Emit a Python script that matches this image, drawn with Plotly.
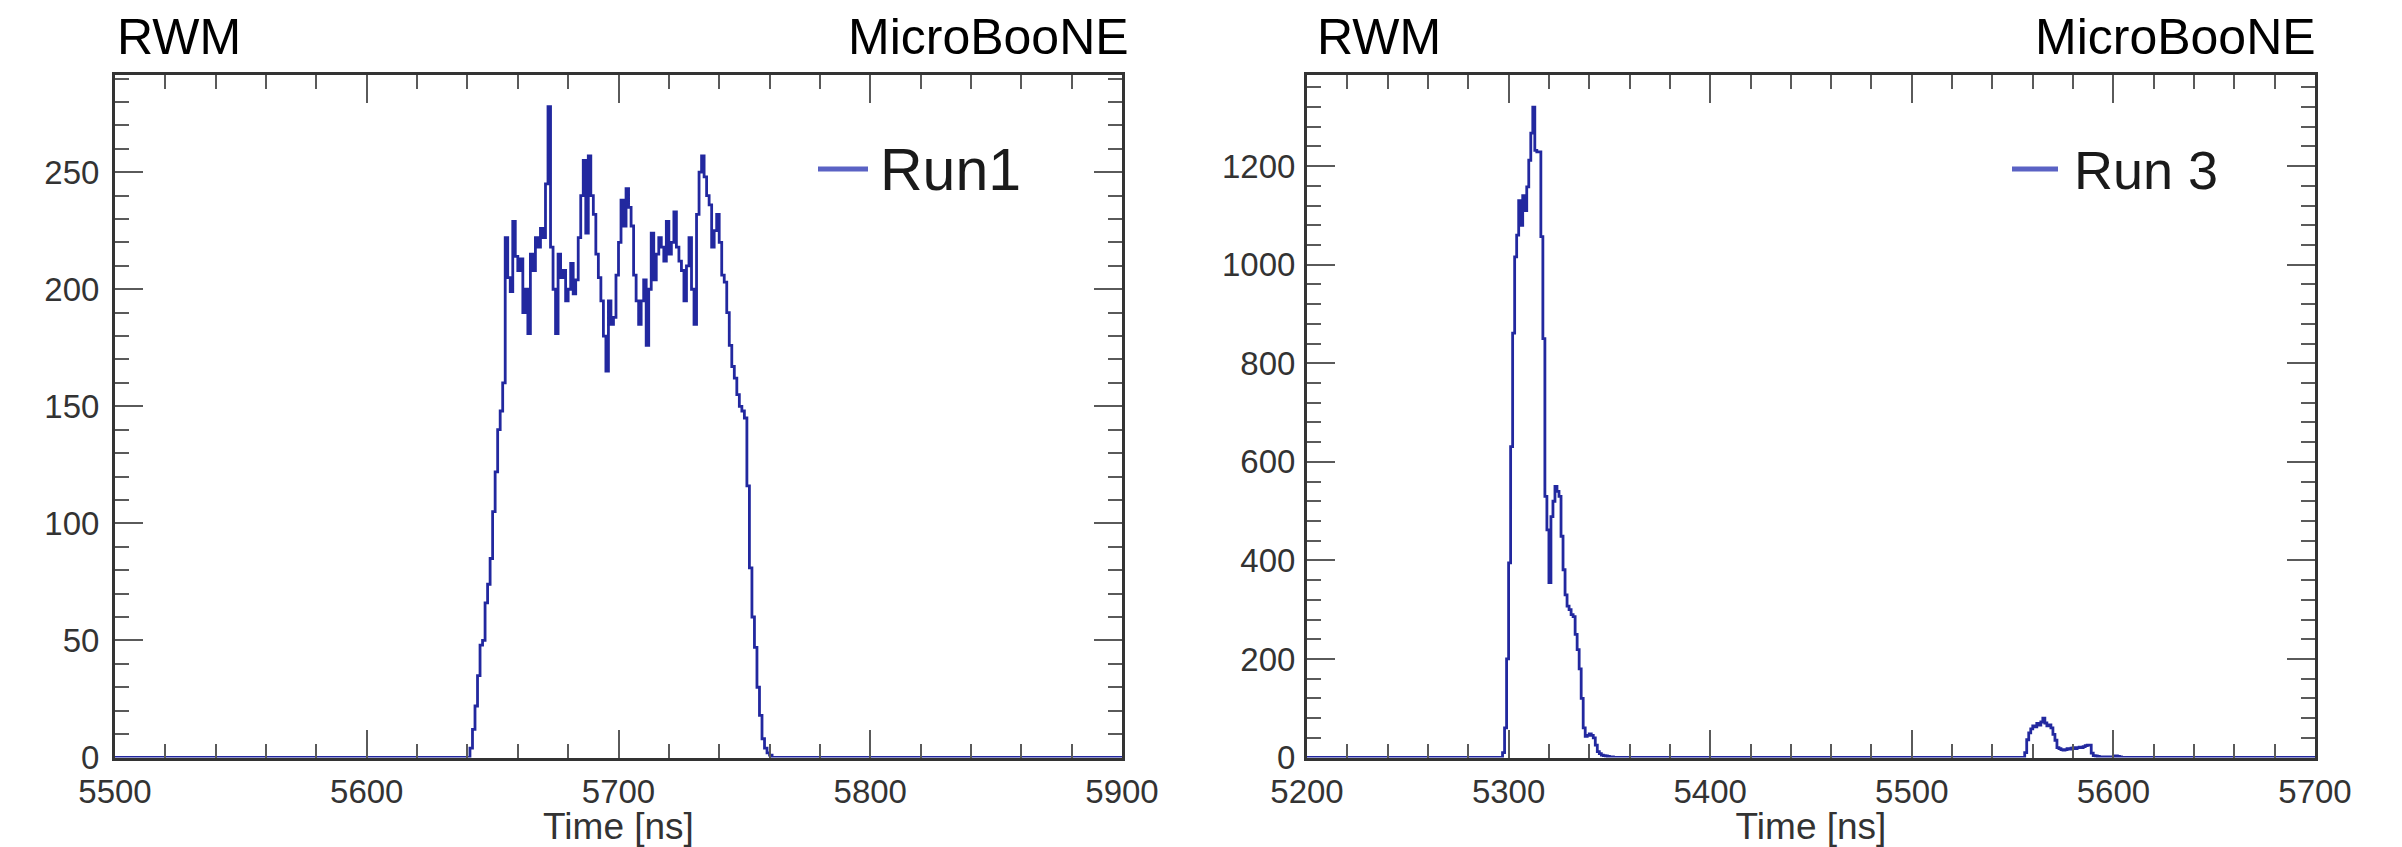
import numpy as np
import plotly.graph_objects as go

# ---------------- data ----------------
# Run 1: RWM waveform, 1-ns bins
RUN1_RANGE = [5500, 5900]
RUN1_T0 = 5640
RUN1_COUNTS = [0, 4, 12, 22, 35, 48, 50, 66, 74, 85, 105, 122, 140, 148, 160,
               222, 205, 199, 229, 214, 208, 213, 190, 200, 181, 215, 208, 222, 218, 226,
               222, 245, 278, 218, 200, 181, 215, 205, 208, 195, 200, 211, 198, 204, 222,
               240, 255, 224, 257, 240, 232, 215, 205, 195, 180, 165, 195, 185, 188, 206,
               220, 238, 227, 243, 235, 227, 206, 195, 185, 195, 204, 176, 200, 224, 204,
               215, 222, 218, 212, 229, 215, 220, 233, 218, 212, 208, 195, 210, 222, 200,
               185, 232, 250, 257, 248, 240, 236, 218, 225, 232, 220, 206, 203, 190, 176,
               167, 162, 155, 150, 148, 145, 116, 81, 60, 47, 30, 18, 8, 4, 2, 1, 0]

# Run 3: RWM waveform, 1-ns bins, two bursts
RUN3_RANGE = [5200, 5700]
RUN3_T0_A = 5296
RUN3_COUNTS_A = [0, 10, 60, 200, 395, 631, 861, 1016, 1060, 1130, 1080, 1140, 1110, 1158,
                 1212, 1267, 1320, 1232, 1229, 1229, 1057, 850, 530, 462, 355, 489, 520,
                 550, 540, 530, 449, 381, 330, 307, 300, 290, 286, 250, 219, 180, 120, 60,
                 43, 45, 48, 45, 40, 25, 12, 8, 5, 4, 3, 2, 1, 1, 0]
RUN3_T0_B = 5555
RUN3_COUNTS_B = [0, 10, 36, 50, 58, 64, 62, 69, 66, 72, 80, 70, 64, 66, 60, 47, 35, 20,
                 18, 16, 15, 16, 18, 17, 19, 20, 18, 20, 21, 20, 22, 24, 25, 25, 9, 4, 3,
                 2, 1, 1, 1, 1, 1, 1, 1, 2, 3, 2, 1, 0]

Y1_MAX = 291.5
Y3_MAX = 1385

PANEL_TITLE_L = "RWM"
PANEL_TITLE_R = "MicroBooNE"
LEGEND1 = "Run1"
LEGEND3 = "Run 3"
XTITLE = "Time [ns]"


def histogram(rng, segments):
    t = np.arange(rng[0], rng[1] + 1)
    c = np.zeros(len(t))
    for t0, vals in segments:
        i0 = t0 - rng[0]
        c[i0:i0 + len(vals)] = vals
    return t, c


t1, c1 = histogram(RUN1_RANGE, [(RUN1_T0, RUN1_COUNTS)])
t3, c3 = histogram(RUN3_RANGE, [(RUN3_T0_A, RUN3_COUNTS_A), (RUN3_T0_B, RUN3_COUNTS_B)])

W, H = 2402, 847
LINE_COLOR = "#22289f"
FONT = "Liberation Sans, Arial, Helvetica, sans-serif"


def px(x):
    return x / W


def py(y):
    return 1 - y / H


fig = go.Figure()
fig.add_trace(go.Scatter(x=t1, y=c1, mode="lines", line=dict(color=LINE_COLOR, width=2.8, shape="hv"),
                         xaxis="x", yaxis="y", showlegend=False, name=LEGEND1))
fig.add_trace(go.Scatter(x=t3, y=c3, mode="lines", line=dict(color=LINE_COLOR, width=2.8, shape="hv"),
                         xaxis="x2", yaxis="y2", showlegend=False, name=LEGEND3))

axis_common = dict(showline=True, linecolor="#333333", linewidth=3, mirror="allticks",
                   ticks="inside", tickcolor="#5a5a5a", tickwidth=2, showgrid=False,
                   zeroline=False, automargin=False,
                   tickfont=dict(family=FONT, size=33, color="#333333"))

XT = dict(text=XTITLE, font=dict(family=FONT, size=37, color="#333333"), standoff=31)
MINOR = dict(ticks="inside", tickcolor="#5a5a5a", tickwidth=2, ticklen=14)
YDOM = [py(757.5), py(75)]
fig.update_layout(
    width=W, height=H, margin=dict(l=0, r=0, t=0, b=0, autoexpand=False),
    paper_bgcolor="white", plot_bgcolor="white",
    xaxis=dict(domain=[px(115), px(1122)], range=RUN1_RANGE, dtick=100, ticklen=28,
               minor=dict(dtick=20, **MINOR), anchor="y", title=XT, ticklabelstandoff=3,
               **axis_common),
    yaxis=dict(domain=YDOM, range=[0, Y1_MAX], dtick=50, ticklen=28,
               minor=dict(dtick=10, **MINOR), anchor="x", ticklabelstandoff=6, **axis_common),
    xaxis2=dict(domain=[px(1307), px(2315)], range=RUN3_RANGE, dtick=100, ticklen=28,
                minor=dict(dtick=20, **MINOR), anchor="y2", title=XT, ticklabelstandoff=3,
                **axis_common),
    yaxis2=dict(domain=YDOM, range=[0, Y3_MAX], dtick=200, ticklen=28,
                minor=dict(dtick=40, **MINOR), anchor="x2", ticklabelstandoff=2, **axis_common),
)

title_font = dict(family=FONT, size=50, color="black")
ann = []
for left, right in [(115, 1131), (1315, 2318)]:
    ann.append(dict(text=PANEL_TITLE_L, x=px(left), y=py(37), xref="paper", yref="paper",
                    xanchor="left", yanchor="middle", showarrow=False, font=title_font))
    ann.append(dict(text=PANEL_TITLE_R, x=px(right), y=py(37), xref="paper", yref="paper",
                    xanchor="right", yanchor="middle", showarrow=False, font=title_font))

# legends
ann.append(dict(text=LEGEND1, x=px(878), y=py(170), xref="paper", yref="paper", xanchor="left",
                yanchor="middle", showarrow=False, font=dict(family=FONT, size=59, color="#1a1a1a")))
ann.append(dict(text=LEGEND3, x=px(2072), y=py(170), xref="paper", yref="paper", xanchor="left",
                yanchor="middle", showarrow=False, font=dict(family=FONT, size=54, color="#1a1a1a")))
shapes = [
    dict(type="line", xref="paper", yref="paper", x0=px(818), x1=px(868), y0=py(169), y1=py(169),
         line=dict(color="#5a62c4", width=5)),
    dict(type="line", xref="paper", yref="paper", x0=px(2012), x1=px(2058), y0=py(169), y1=py(169),
         line=dict(color="#5a62c4", width=5)),
]
fig.update_layout(annotations=ann, shapes=shapes)

fig.write_html("out.html")
